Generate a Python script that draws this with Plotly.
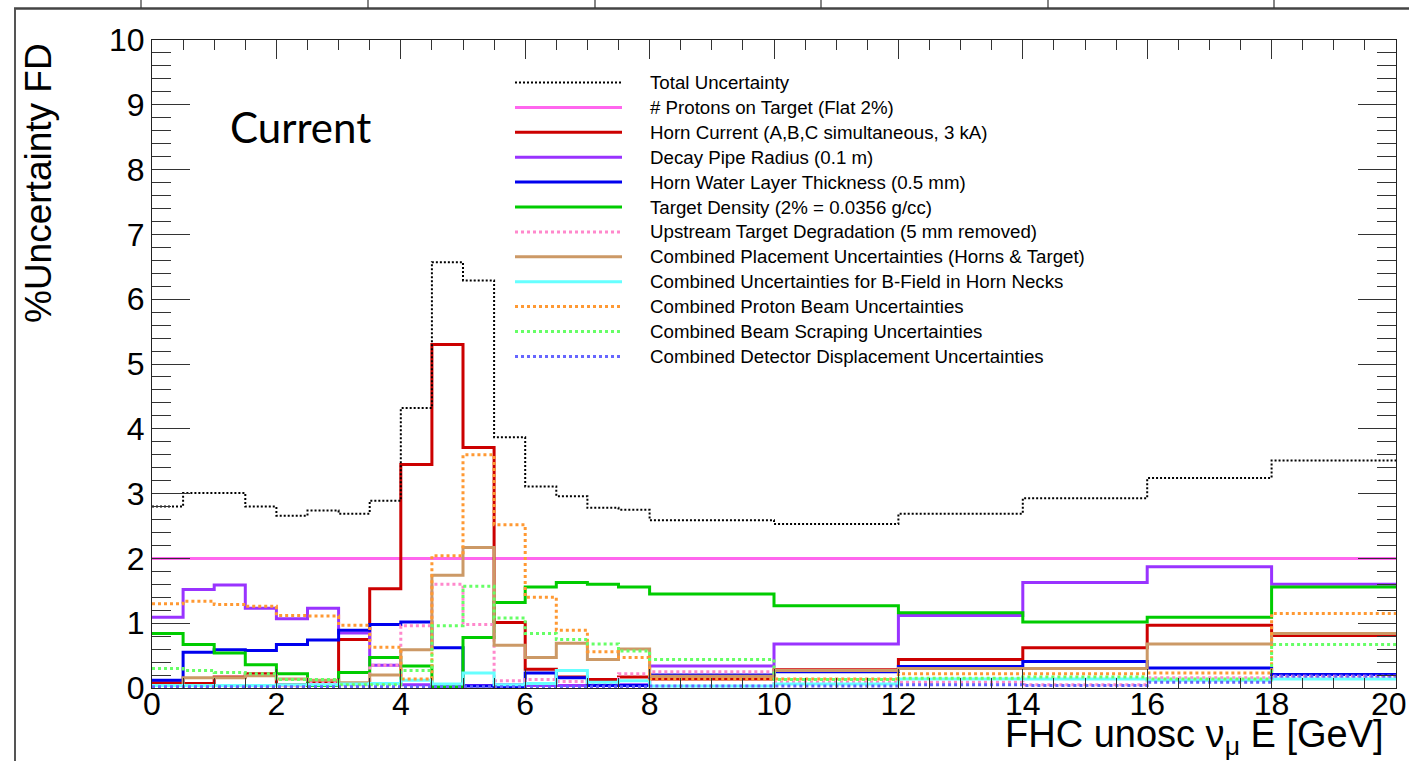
import plotly.graph_objects as go

# Energy bin edges [GeV]: 0.5 GeV bins up to 8, then 2 GeV bins to 20
bin_edges = [0, 0.5, 1, 1.5, 2, 2.5, 3, 3.5, 4, 4.5, 5, 5.5, 6, 6.5, 7, 7.5, 8,
             10, 12, 14, 16, 18, 20]

# Fractional uncertainty per bin [%]
total_unc = [2.80, 3.01, 3.01, 2.80, 2.66, 2.74, 2.69, 2.89, 4.32, 6.57, 6.29,
             3.87, 3.11, 2.96, 2.78, 2.75, 2.59, 2.53, 2.69, 2.93, 3.24, 3.51]
pot_unc = [2.0] * 22
horn_current = [0.08, 0.07, 0.17, 0.22, 0.05, 0.10, 0.75, 1.53, 3.45, 5.30, 3.71,
                1.01, 0.29, 0.17, 0.13, 0.17, 0.14, 0.28, 0.44, 0.62, 0.97, 0.81]
decay_pipe = [1.09, 1.52, 1.59, 1.23, 1.07, 1.23, 0.85, 0.35, 0.05, 0.04, 0.04,
              0.05, 0.04, 0.04, 0.04, 0.05, 0.34, 0.68, 1.12, 1.63, 1.87, 1.60]
water_layer = [0.12, 0.55, 0.59, 0.58, 0.67, 0.74, 0.89, 0.98, 1.02, 0.62, 0.03,
               0.02, 0.23, 0.16, 0.04, 0.04, 0.20, 0.25, 0.33, 0.41, 0.31, 0.21]
target_density = [0.84, 0.67, 0.54, 0.36, 0.22, 0.04, 0.24, 0.47, 0.34, 0.02, 0.78,
                  1.32, 1.56, 1.63, 1.60, 1.56, 1.45, 1.27, 1.16, 1.02, 1.09, 1.56]
target_degradation = [0.04, 0.03, 0.03, 0.03, 0.03, 0.09, 0.05, 0.35, 0.96, 1.60, 0.98,
                      0.11, 0.13, 0.10, 0.08, 0.22, 0.25, 0.09, 0.09, 0.05, 0.16, 0.18]
placement = [0.04, 0.16, 0.16, 0.19, 0.14, 0.12, 0.08, 0.20, 0.59, 1.74, 2.17,
             0.66, 0.47, 0.69, 0.44, 0.60, 0.18, 0.27, 0.30, 0.30, 0.68, 0.84]
bfield_necks = [0.04, 0.04, 0.04, 0.04, 0.05, 0.05, 0.06, 0.07, 0.12, 0.06, 0.23,
                0.05, 0.07, 0.27, 0.09, 0.11, 0.03, 0.06, 0.14, 0.14, 0.12, 0.14]
proton_beam = [1.30, 1.34, 1.29, 1.26, 1.12, 1.11, 0.97, 0.63, 0.14, 2.04, 3.60,
               2.52, 1.40, 0.89, 0.56, 0.47, 0.14, 0.14, 0.22, 0.22, 0.23, 1.15]
beam_scraping = [0.30, 0.27, 0.24, 0.22, 0.13, 0.13, 0.05, 0.05, 0.27, 0.96, 1.57,
                 1.08, 0.84, 0.75, 0.68, 0.57, 0.44, 0.13, 0.15, 0.17, 0.14, 0.67]
detector_disp = [0.02, 0.02, 0.02, 0.02, 0.02, 0.02, 0.02, 0.02, 0.02, 0.02, 0.02,
                 0.02, 0.02, 0.02, 0.02, 0.02, 0.03, 0.03, 0.05, 0.04, 0.09, 0.18]

# x axis ticks; the last label sits flush with the canvas edge, drawn separately
x_tick_vals = [0, 2, 4, 6, 8, 10, 12, 14, 16, 18]
x_tick_text = ["0", "2", "4", "6", "8", "10", "12", "14", "16", "18"]
x_edge_label = "20"

legend_labels = [
    "Total Uncertainty",
    "# Protons on Target (Flat 2%)",
    "Horn Current (A,B,C simultaneous, 3 kA)",
    "Decay Pipe Radius (0.1 m)",
    "Horn Water Layer Thickness (0.5 mm)",
    "Target Density (2% = 0.0356 g/cc)",
    "Upstream Target Degradation (5 mm removed)",
    "Combined Placement Uncertainties (Horns & Target)",
    "Combined Uncertainties for B-Field in Horn Necks",
    "Combined Proton Beam Uncertainties",
    "Combined Beam Scraping Uncertainties",
    "Combined Detector Displacement Uncertainties",
]

series = [total_unc, pot_unc, horn_current, decay_pipe, water_layer, target_density,
          target_degradation, placement, bfield_necks, proton_beam, beam_scraping,
          detector_disp]
# (colour, width, dash) per series
styles = [
    ("#000000", 2, "2px,2px"),
    ("#ff66ee", 3, "solid"),
    ("#cc0000", 3, "solid"),
    ("#9933ff", 3, "solid"),
    ("#0000ee", 3, "solid"),
    ("#00cc00", 3, "solid"),
    ("#ff88cc", 3, "dot"),
    ("#cc9966", 3, "solid"),
    ("#66ffff", 3, "solid"),
    ("#ff9933", 3, "dot"),
    ("#66ff66", 3, "dot"),
    ("#6666ff", 3, "dot"),
]

W, H = 1409, 761
ML, MR, MT, MB = 152, 13, 40, 73
PW, PH = W - ML - MR, H - MT - MB


def px(xp):
    return (xp - ML) / PW


def py(yp):
    return (H - MB - yp) / PH


fig = go.Figure()

# draw components first, total on top
order = list(range(1, len(series))) + [0]
for i in order:
    vals = series[i]
    col, lw, dash = styles[i]
    fig.add_trace(go.Scatter(
        x=bin_edges, y=list(vals) + [vals[-1]],
        mode="lines", line=dict(color=col, width=lw, dash=dash, shape="hv"),
        name=legend_labels[i], showlegend=False, hoverinfo="skip",
    ))

shapes = []
annotations = []

# hand-drawn legend block
leg_y0, leg_dy = 82.5, 24.9
for i, label in enumerate(legend_labels):
    col, lw, dash = styles[i]
    yy = py(leg_y0 + i * leg_dy)
    shapes.append(dict(type="line", xref="paper", yref="paper",
                       x0=px(515), x1=px(622), y0=yy, y1=yy,
                       line=dict(color=col, width=lw, dash=dash)))
    annotations.append(dict(xref="paper", yref="paper", x=px(648), y=yy,
                            xanchor="left", yanchor="middle", showarrow=False,
                            text=label.replace("&", "&amp;"),
                            font=dict(family="Liberation Sans", size=18.7, color="#000")))

# outer canvas border and the cut-off ticks above it
shapes.append(dict(type="line", xref="paper", yref="paper", x0=px(14), x1=px(1409),
                   y0=py(8.5), y1=py(8.5), line=dict(color="#444", width=2.5)))
shapes.append(dict(type="line", xref="paper", yref="paper", x0=px(15), x1=px(15),
                   y0=py(8.5), y1=py(761), line=dict(color="#555", width=2)))
for tx in [141, 368, 595, 821, 1048, 1274]:
    shapes.append(dict(type="line", xref="paper", yref="paper", x0=px(tx), x1=px(tx),
                       y0=py(0), y1=py(8), line=dict(color="#333", width=1.2)))

annotations.append(dict(xref="paper", yref="paper", x=px(300), y=py(127),
                        xanchor="center", yanchor="middle", showarrow=False,
                        text="Current", font=dict(family="Lato", size=42, color="#000")))
annotations.append(dict(xref="paper", yref="paper", x=px(38), y=py(183),
                        xanchor="center", yanchor="middle", showarrow=False, textangle=-90,
                        text="%Uncertainty FD",
                        font=dict(family="Liberation Sans", size=37, color="#000")))
annotations.append(dict(xref="paper", yref="paper", x=px(1386), y=py(737),
                        xanchor="right", yanchor="middle", showarrow=False,
                        text="FHC unosc ν<sub>μ</sub> E [GeV]",
                        font=dict(family="Liberation Sans", size=38, color="#000")))
annotations.append(dict(xref="paper", yref="paper", x=px(1409), y=py(704),
                        xanchor="right", yanchor="middle", showarrow=False,
                        text=x_edge_label,
                        font=dict(family="Liberation Sans", size=32, color="#000")))

axis_common = dict(showline=True, linecolor="#222", linewidth=1, mirror="ticks",
                   ticks="inside", tickcolor="#333", tickwidth=1, showgrid=False,
                   zeroline=False,
                   tickfont=dict(family="Liberation Sans", size=32, color="#000"))

fig.update_layout(
    width=W, height=H,
    margin=dict(l=ML, r=MR, t=MT, b=MB, pad=0),
    plot_bgcolor="white", paper_bgcolor="white",
    xaxis=dict(range=[0, 20], tickmode="array", tickvals=x_tick_vals,
               ticktext=x_tick_text, ticklen=19, ticklabelstandoff=-12,
               minor=dict(tick0=0, dtick=0.5, ticklen=10, ticks="inside",
                          tickcolor="#333"),
               **axis_common),
    yaxis=dict(range=[0, 10], dtick=1, tick0=0, ticklen=38,
               minor=dict(dtick=0.2, ticklen=19, ticks="inside", tickcolor="#333"),
               **axis_common),
    shapes=shapes, annotations=annotations, showlegend=False,
)

fig.write_html("out.html")
